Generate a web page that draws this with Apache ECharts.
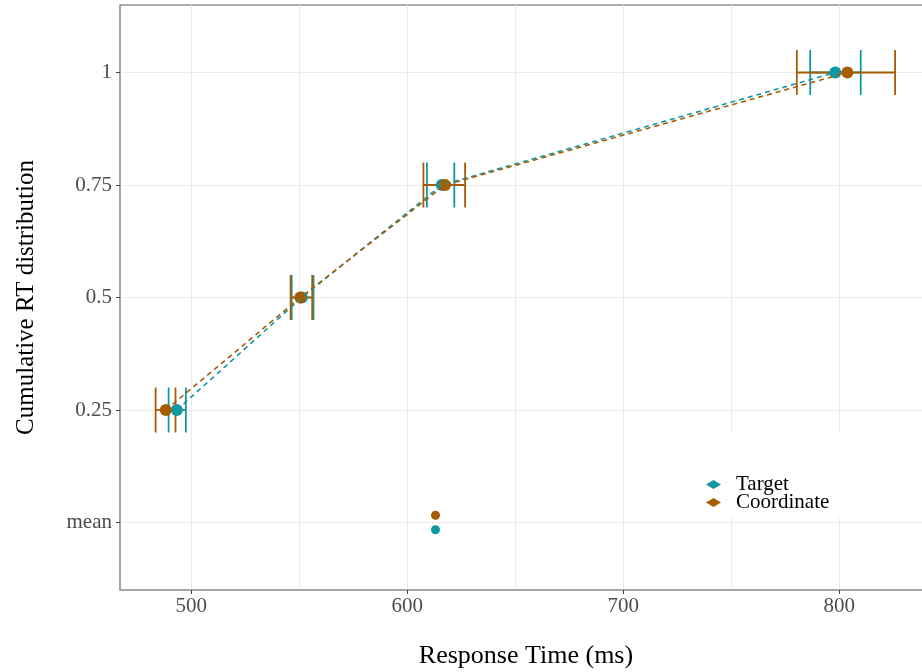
<!DOCTYPE html>
<html><head><meta charset="utf-8">
<script src="https://cdn.jsdelivr.net/npm/echarts@6/dist/echarts.min.js"></script>
<style>html,body{margin:0;padding:0;background:#fff}#c{width:922px;height:672px}</style>
</head><body><div id="c"></div>
<script>
// ---- data ----
const probs = [0.25, 0.5, 0.75, 1];
const targetQ  = [493.3, 551.2, 616.0, 798.2];
const targetLo = [489.5, 546.5, 609.1, 786.6];
const targetHi = [497.5, 556.6, 621.8, 810.0];
const coordQ   = [488.2, 550.5, 617.5, 803.8];
const coordLo  = [483.5, 546.0, 607.5, 780.4];
const coordHi  = [492.7, 556.0, 626.8, 825.9];
const meanTarget = 613.1;
const meanCoord  = 613.1;
const xTicks = [500, 600, 700, 800];
const xMinor = [550, 650, 750];
const yTicks = [0, 0.25, 0.5, 0.75, 1];
const yTickLabels = ['mean', '0.25', '0.5', '0.75', '1'];
const seriesNames = ['Target', 'Coordinate'];

// ---- styling ----
const TEAL = '#0f98a2', BROWN = '#a65c02';
const FONT = 'Liberation Serif';
const CAP = 0.05;     // half height of error bar caps (y units)
const DODGE = 0.016;  // vertical dodge of mean points

function errRender(color) {
  return function (params, api) {
    const lo = api.value(0), hi = api.value(1), p = api.value(2);
    const a = api.coord([lo, p]), b = api.coord([hi, p]);
    const h = api.size([0, CAP])[1];
    const st = () => ({ stroke: color, lineWidth: 1.8 });
    return { type: 'group', children: [
      { type: 'line', shape: { x1: a[0], y1: a[1], x2: b[0], y2: b[1] }, style: st() },
      { type: 'line', shape: { x1: a[0], y1: a[1] - h, x2: a[0], y2: a[1] + h }, style: st() },
      { type: 'line', shape: { x1: b[0], y1: b[1] - h, x2: b[0], y2: b[1] + h }, style: st() }
    ]};
  };
}
const zip = (xs) => xs.map((x, i) => [x, probs[i]]);
const errData = (lo, hi) => probs.map((p, i) => [lo[i], hi[i], p]);

const gridLines = [].concat(
  xTicks.map(v => ({ xAxis: v })),
  xMinor.map(v => ({ xAxis: v })),
  yTicks.map(v => ({ yAxis: v }))
);

const chart = echarts.init(document.getElementById('c'), null, { renderer: 'canvas' });
chart.setOption({
  animation: false,
  backgroundColor: '#fff',
  textStyle: { fontFamily: FONT },
  grid: { left: 120, right: -10, top: 5, bottom: 82, outerBoundsMode: 'none', containLabel: false,
    show: true, borderColor: '#5a5a5a', borderWidth: 1, backgroundColor: 'transparent' },
  legend: {
    orient: 'vertical', left: 694, top: 432,
    padding: [42, 30, 5, 12],
    backgroundColor: '#fff',
    itemWidth: 15, itemHeight: 9, itemGap: -3,
    data: [
      { name: seriesNames[0], icon: 'diamond' },
      { name: seriesNames[1], icon: 'diamond' }
    ],
    textStyle: { fontFamily: FONT, fontSize: 21, color: '#000', padding: [0, 0, 0, 10] }
  },
  xAxis: {
    type: 'value', min: 467, max: 843,
    name: 'Response Time (ms)', nameLocation: 'middle', nameGap: 53,
    nameTextStyle: { fontFamily: FONT, fontSize: 26, color: '#000' },
    axisLine: { show: true, onZero: false, lineStyle: { color: '#a3a3a3', width: 1.6 } },
    axisTick: { show: true, length: 4, lineStyle: { color: '#444' }, customValues: xTicks },
    axisLabel: { customValues: xTicks, fontFamily: FONT, fontSize: 21, color: '#4d4d4d', margin: 6 },
    splitLine: { show: false }
  },
  yAxis: {
    type: 'value', min: -0.15, max: 1.15,
    name: 'Cumulative RT distribution', nameLocation: 'middle', nameGap: 81,
    nameTextStyle: { fontFamily: FONT, fontSize: 25, color: '#000' },
    axisLine: { show: true, onZero: false, lineStyle: { color: '#a3a3a3', width: 1.6 } },
    axisTick: { show: true, length: 4, lineStyle: { color: '#444' }, customValues: yTicks },
    axisLabel: {
      customValues: yTicks, fontFamily: FONT, fontSize: 21, color: '#4d4d4d', margin: 8,
      formatter: function (v) { const i = yTicks.indexOf(v); return i >= 0 ? yTickLabels[i] : ''; }
    },
    splitLine: { show: false }
  },
  series: [
    { type: 'line', name: 'grid', data: [], silent: true, z: 0,
      markLine: { silent: true, z: 0, symbol: 'none', label: { show: false }, animation: false,
        lineStyle: { color: '#ebebeb', width: 1.2, type: 'solid' }, data: gridLines } },
    { type: 'custom', name: 'Target-err', z: 2, renderItem: errRender(TEAL),
      encode: { x: [0, 1], y: 2 }, data: errData(targetLo, targetHi), itemStyle: { color: TEAL } },
    { type: 'custom', name: 'Coordinate-err', z: 2, renderItem: errRender(BROWN),
      encode: { x: [0, 1], y: 2 }, data: errData(coordLo, coordHi), itemStyle: { color: BROWN } },
    { type: 'scatter', name: seriesNames[0], z: 3, symbol: 'circle', symbolSize: 12,
      itemStyle: { color: TEAL, opacity: 1 }, data: zip(targetQ) },
    { type: 'scatter', name: seriesNames[1], z: 3, symbol: 'circle', symbolSize: 12,
      itemStyle: { color: BROWN, opacity: 1 }, data: zip(coordQ) },
    { type: 'line', name: 'Target-line', z: 4, showSymbol: false, symbol: 'none',
      lineStyle: { color: TEAL, width: 1.6, type: [5, 4] }, data: zip(targetQ) },
    { type: 'line', name: 'Coordinate-line', z: 4, showSymbol: false, symbol: 'none',
      lineStyle: { color: BROWN, width: 1.6, type: [5, 4] }, data: zip(coordQ) },
    { type: 'scatter', name: 'Target-mean', z: 3, symbol: 'circle', symbolSize: 9,
      itemStyle: { color: TEAL, opacity: 1 }, data: [[meanTarget, 0 - DODGE]] },
    { type: 'scatter', name: 'Coordinate-mean', z: 3, symbol: 'circle', symbolSize: 9,
      itemStyle: { color: BROWN, opacity: 1 }, data: [[meanCoord, 0 + DODGE]] }
  ]
});
</script></body></html>
